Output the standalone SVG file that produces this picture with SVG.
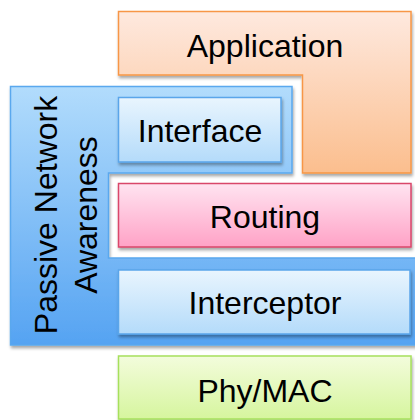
<svg xmlns="http://www.w3.org/2000/svg" width="415" height="420" viewBox="0 0 415 420">
<style>
text{font-family:"Liberation Sans",Arial,sans-serif;font-size:32px;fill:#000;text-anchor:middle}
.s{filter:url(#sh)}
</style>
<defs>
<filter id="sh" x="-10%" y="-10%" width="120%" height="130%">
<feDropShadow dx="1" dy="2.5" stdDeviation="1.5" flood-color="#000" flood-opacity="0.35"/>
</filter>
<linearGradient id="gApp" x1="0" y1="0" x2="0" y2="1"><stop offset="0" stop-color="#fee9df"/><stop offset="1" stop-color="#fbbe8e"/></linearGradient>
<linearGradient id="gPna" x1="0" y1="0" x2="0" y2="1"><stop offset="0" stop-color="#b2dcfc"/><stop offset="1" stop-color="#55a3f2"/></linearGradient>
<linearGradient id="gBox" x1="0" y1="0" x2="0" y2="1"><stop offset="0" stop-color="#e9f5fe"/><stop offset="1" stop-color="#b4dbfa"/></linearGradient>
<linearGradient id="gRt" x1="0" y1="0" x2="0" y2="1"><stop offset="0" stop-color="#ffe4f1"/><stop offset="1" stop-color="#ffa2c6"/></linearGradient>
<linearGradient id="gPhy" x1="0" y1="0" x2="0" y2="1"><stop offset="0" stop-color="#f3fcdc"/><stop offset="1" stop-color="#d6f59e"/></linearGradient>
</defs>
<g id="application">
<polygon class="s" points="118.5,11.5 411,11.5 411,173 302.5,173 302.5,75 118.5,75" fill="url(#gApp)" stroke="#f79646" stroke-width="1.5"/>
<text x="265" y="57">Application</text>
</g>
<g id="passive-network-awareness">
<polygon class="s" points="10.5,86.5 292,86.5 292,173 108.5,173 108.5,258 416,258 416,345 10.5,345" fill="url(#gPna)" stroke="#5aa8ee" stroke-width="1.5"/>
<text transform="translate(57,215) rotate(-90)"><tspan x="0" y="0">Passive Network</tspan><tspan x="0" y="40">Awareness</tspan></text>
</g>
<g id="interface">
<rect class="s" x="118.5" y="97.5" width="162.5" height="64.5" fill="url(#gBox)" stroke="#5aa5ea" stroke-width="1.5"/>
<text x="200" y="142">Interface</text>
</g>
<g id="routing">
<rect class="s" x="118.5" y="183.5" width="292.5" height="63.5" fill="url(#gRt)" stroke="#d9466a" stroke-width="1.5"/>
<text x="265" y="228">Routing</text>
</g>
<g id="interceptor">
<rect class="s" x="118.5" y="270" width="291.5" height="64" fill="url(#gBox)" stroke="#5aa5ea" stroke-width="1.5"/>
<text x="265" y="314">Interceptor</text>
</g>
<g id="phy-mac">
<rect class="s" x="118.5" y="356" width="292.5" height="63" fill="url(#gPhy)" stroke="#a6e05c" stroke-width="1.5"/>
<text x="265" y="402">Phy/MAC</text>
</g>
<g id="connectors"/>
</svg>
